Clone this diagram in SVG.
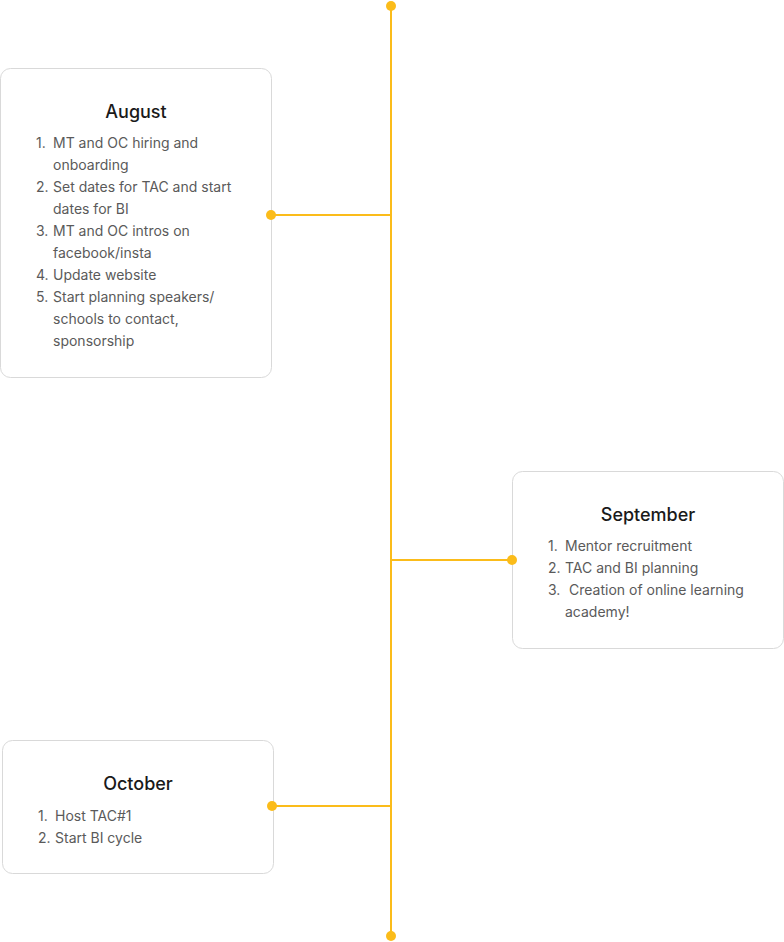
<svg xmlns="http://www.w3.org/2000/svg" width="784" height="942" viewBox="0 0 784 942">
<style>
.box{fill:#fff;stroke:#d9d9d9;stroke-width:1}
.title{font-family:Inter,"Liberation Sans",sans-serif;font-size:18px;font-weight:500;fill:#1a1a1a;text-anchor:middle}
.item{font-family:Inter,"Liberation Sans",sans-serif;font-size:14px;fill:#5a5a5a}
.line{stroke:#FBBC1A;stroke-width:2;fill:none}
.dot{fill:#FBBC1A}
</style>
<rect width="784" height="942" fill="#fff"/>
<g id="august">
<rect class="box" x="0.5" y="68.5" width="271" height="309" rx="10"/>
<text class="title" x="136" y="118">August</text>
<text class="item" x="36" y="148">1.</text><text class="item" x="53" y="148">MT and OC hiring and</text>
<text class="item" x="53" y="170">onboarding</text>
<text class="item" x="36" y="192">2.</text><text class="item" x="53" y="192">Set dates for TAC and start</text>
<text class="item" x="53" y="214">dates for BI</text>
<text class="item" x="36" y="236">3.</text><text class="item" x="53" y="236">MT and OC intros on</text>
<text class="item" x="53" y="258">facebook/insta</text>
<text class="item" x="36" y="280">4.</text><text class="item" x="53" y="280">Update website</text>
<text class="item" x="36" y="302">5.</text><text class="item" x="53" y="302">Start planning speakers/</text>
<text class="item" x="53" y="324">schools to contact,</text>
<text class="item" x="53" y="346">sponsorship</text>
</g>
<g id="september">
<rect class="box" x="512.5" y="471.5" width="271" height="177" rx="10"/>
<text class="title" x="648" y="521">September</text>
<text class="item" x="548" y="551">1.</text><text class="item" x="565" y="551">Mentor recruitment</text>
<text class="item" x="548" y="573">2.</text><text class="item" x="565" y="573">TAC and BI planning</text>
<text class="item" x="548" y="595">3.</text><text class="item" x="569" y="595">Creation of online learning</text>
<text class="item" x="565" y="617">academy!</text>
</g>
<g id="october">
<rect class="box" x="2.5" y="740.5" width="271" height="133" rx="10"/>
<text class="title" x="138" y="790">October</text>
<text class="item" x="38" y="821">1.</text><text class="item" x="55" y="821">Host TAC#1</text>
<text class="item" x="38" y="843">2.</text><text class="item" x="55" y="843">Start BI cycle</text>
</g>
<g id="connectors">
<line class="line" x1="391" y1="6" x2="391" y2="936"/>
<line class="line" x1="271" y1="215" x2="391" y2="215"/>
<line class="line" x1="391" y1="560" x2="512" y2="560"/>
<line class="line" x1="272" y1="806" x2="391" y2="806"/>
<circle class="dot" cx="391" cy="6" r="5"/>
<circle class="dot" cx="391" cy="936" r="5"/>
<circle class="dot" cx="271" cy="215" r="5"/>
<circle class="dot" cx="512" cy="560" r="5"/>
<circle class="dot" cx="272" cy="806" r="5"/>
</g>
</svg>
